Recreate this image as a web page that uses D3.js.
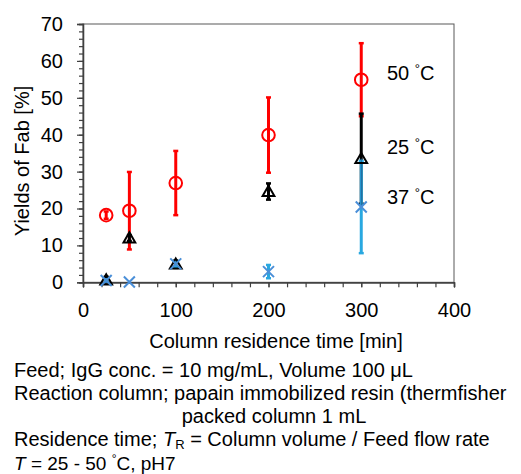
<!DOCTYPE html>
<html>
<head>
<meta charset="utf-8">
<script src="https://cdn.jsdelivr.net/npm/d3@7"></script>
<style>
  html, body { margin: 0; padding: 0; background: #fff; }
  svg text { font-family: "Liberation Sans", Arial, sans-serif; fill: #000; }
</style>
</head>
<body>
<svg id="chart" width="521" height="474"></svg>
<script>
// ---- data ----
const residenceTimes = [25, 50, 100, 200, 300];
const yield50 = [18.2, 19.4, 26.9, 39.9, 54.9];
const err50   = [1.0, 10.5, 8.7, 10.2, 9.9];
const yield25 = [0.6, 12.0, 4.9, 24.6, 33.5];
const err25   = [0.9, 0.8, 1.0, 2.2, 12.2];
const yield37 = [0.5, 0.1, 5.0, 2.9, 20.4];
const err37   = [0.3, 0.0, 0.8, 1.8, 12.5];
const xTicks = [0, 100, 200, 300, 400];
const yTicks = [0, 10, 20, 30, 40, 50, 60, 70];
const seriesLabels = ["50 °C", "25 °C", "37 °C"];
const labelYs = [56.8, 36.7, 23.1];
const notes = [
  "Feed; IgG conc. = 10 mg/mL, Volume 100 μL",
  "Reaction column; papain immobilized resin (thermfisher",
  "packed column 1 mL",
  "Residence time; T_R = Column volume / Feed flow rate",
  "T = 25 - 50 °C, pH7"
];

const svg = d3.select("#chart");
const L = 83, R = 454, T = 24, B = 282.3;
const x = d3.scaleLinear().domain([0, 400]).range([L, R]);
const y = d3.scaleLinear().domain([0, 70]).range([B, T]);

// frame
svg.append("rect").attr("x", L).attr("y", T).attr("width", R - L).attr("height", B - T)
  .attr("fill", "none").attr("stroke", "#595959").attr("stroke-width", 1);

// minor ticks
const gx = svg.append("g").attr("transform", `translate(0,${B})`)
  .call(d3.axisBottom(x).tickValues(d3.range(0, 401, 20)).tickSize(5).tickFormat(""));
const gy = svg.append("g").attr("transform", `translate(${L},0)`)
  .call(d3.axisLeft(y).tickValues(d3.range(0, 71, 2)).tickSize(4).tickFormat(""));
// major ticks with labels
const gx2 = svg.append("g").attr("transform", `translate(0,${B})`)
  .call(d3.axisBottom(x).tickValues(xTicks).tickSize(5).tickPadding(16));
const gy2 = svg.append("g").attr("transform", `translate(${L},0)`)
  .call(d3.axisLeft(y).tickValues(yTicks).tickSize(6).tickPadding(14));
[gx, gy, gx2, gy2].forEach(g => {
  g.selectAll(".domain").attr("stroke", "#404040").attr("stroke-width", 1.3);
  g.selectAll(".tick line").attr("stroke", "#404040").attr("stroke-width", 1.2);
  g.selectAll(".tick text").attr("font-size", 20).attr("font-family", "Liberation Sans, Arial, sans-serif").attr("fill", "#000");
});

// axis titles
svg.append("text").attr("x", 276).attr("y", 348).attr("text-anchor", "middle")
  .attr("font-size", 20).text("Column residence time [min]");
svg.append("text").attr("transform", "translate(29,161) rotate(-90)").attr("text-anchor", "middle")
  .attr("font-size", 20).text("Yields of Fab [%]");

function errorBars(vals, errs, color, width) {
  const g = svg.append("g");
  residenceTimes.forEach((t, i) => {
    if (errs[i] <= 0) return;
    const cx = x(t), y1 = y(vals[i] + errs[i]), y2 = y(Math.max(0, vals[i] - errs[i]));
    g.append("line").attr("x1", cx).attr("x2", cx).attr("y1", y1).attr("y2", y2)
      .attr("stroke", color).attr("stroke-width", width);
    [y1, y2].forEach(yy => g.append("line").attr("x1", cx - 2.5).attr("x2", cx + 2.5)
      .attr("y1", yy).attr("y2", yy).attr("stroke", color).attr("stroke-width", 2.5));
  });
}

// error bars: red, black, blue
errorBars(yield50, err50, "#ff0000", 3);
errorBars(yield25, err25, "#000000", 3);
errorBars(yield37, err37, "#29a8e0", 3);
// thin dark core where the blue bar overlaps the black bar
residenceTimes.forEach((t, i) => {
  if (i === 4) {
    svg.append("line").attr("x1", x(t)).attr("x2", x(t))
      .attr("y1", y(yield25[i])).attr("y2", y(yield37[i]))
      .attr("stroke", "#1e5f94").attr("stroke-width", 1);
  }
});

// markers
residenceTimes.forEach((t, i) => {
  svg.append("circle").attr("cx", x(t)).attr("cy", y(yield50[i])).attr("r", 6.3)
    .attr("fill", "none").attr("stroke", "#ff0000").attr("stroke-width", 2);
});
const tri = d3.symbol().type(d3.symbolTriangle).size(60);
residenceTimes.forEach((t, i) => {
  svg.append("path").attr("d", tri()).attr("transform", `translate(${x(t)},${y(yield25[i]) + 1})`)
    .attr("fill", "none").attr("stroke", "#000").attr("stroke-width", 2);
});
residenceTimes.forEach((t, i) => {
  const cx = x(t), cy = y(yield37[i]), s = 5.5;
  svg.append("path").attr("d", `M${cx - s},${cy - s}L${cx + s},${cy + s}M${cx - s},${cy + s}L${cx + s},${cy - s}`)
    .attr("stroke", "#4a8fd8").attr("stroke-width", 2).attr("fill", "none");
});

// series labels
seriesLabels.forEach((lab, i) => {
  const [num, unit] = lab.split(" °");
  const t = svg.append("text").attr("x", 387).attr("y", y(labelYs[i]) + 7).attr("font-size", 20);
  t.append("tspan").text(num + " ");
  t.append("tspan").attr("font-size", 13).attr("dy", -7).text("°");
  t.append("tspan").attr("dy", 7).text(unit);
});

// notes
const noteY = [377, 400, 423, 446, 469.5];
notes.forEach((n, i) => {
  const t = svg.append("text").attr("y", noteY[i]).attr("font-size", i === 4 ? 19 : 20);
  if (i === 2) { t.attr("x", 274).attr("text-anchor", "middle").text(n); return; }
  t.attr("x", 14);
  if (i === 3) {
    const [a, b] = n.split("T_R");
    t.append("tspan").text(a);
    t.append("tspan").attr("font-style", "italic").text("T");
    t.append("tspan").attr("font-size", 13).attr("dy", 3).text("R");
    t.append("tspan").attr("dy", -3).text(b);
  } else if (i === 4) {
    const rest = n.slice(1).split("°");
    t.append("tspan").attr("font-style", "italic").text("T");
    t.append("tspan").text(rest[0]);
    t.append("tspan").attr("font-size", 12).attr("dy", -7).text("°");
    t.append("tspan").attr("dy", 7).text(rest[1]);
  } else {
    t.text(n);
  }
});
</script>
</body>
</html>
